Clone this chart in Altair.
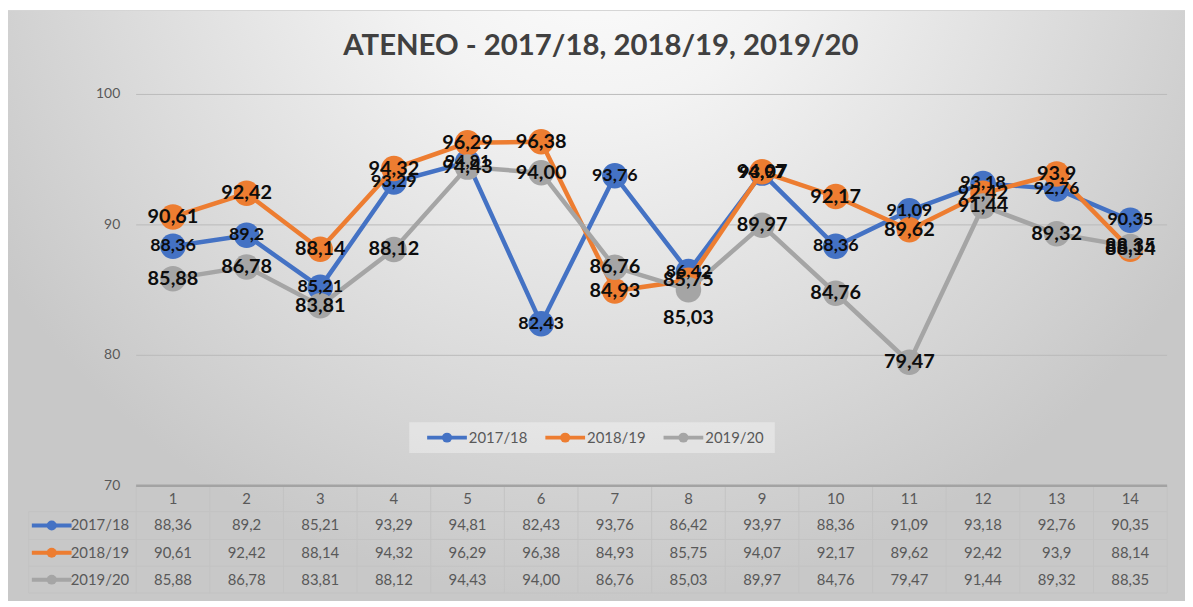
import altair as alt
import pandas as pd

# ---------------- data ----------------
periods = ["1", "2", "3", "4", "5", "6", "7", "8", "9", "10", "11", "12", "13", "14"]
series_names = ["2017/18", "2018/19", "2019/20"]
values_1718 = ["88,36", "89,2", "85,21", "93,29", "94,81", "82,43", "93,76",
               "86,42", "93,97", "88,36", "91,09", "93,18", "92,76", "90,35"]
values_1819 = ["90,61", "92,42", "88,14", "94,32", "96,29", "96,38", "84,93",
               "85,75", "94,07", "92,17", "89,62", "92,42", "93,9", "88,14"]
values_1920 = ["85,88", "86,78", "83,81", "88,12", "94,43", "94,00", "86,76",
               "85,03", "89,97", "84,76", "79,47", "91,44", "89,32", "88,35"]
y_ticks = [70, 80, 90, 100]
title_text = "ATENEO - 2017/18, 2018/19, 2019/20"

# ---------------- style ----------------
colors = ["#4472C4", "#ED7D31", "#A5A5A5"]
label_sizes = [18, 20, 20]
labels_below = {("2019/20", "8")}
W, H = 1038, 394
PAD_L, PAD_T, PAD_R, PAD_B = 129, 85, 18, 120
FONT = "Lato"
TXT = "#595959"
GRID = "#bababa"
TABLE_LINE = "#c3c3c3"

rows = []
for s, vals in zip(series_names, [values_1718, values_1819, values_1920]):
    for i, (p, v) in enumerate(zip(periods, vals)):
        rows.append({
            "series": s, "x": i + 1, "period": p, "label": v,
            "value": float(v.replace(",", ".")),
            "pos": "below" if (s, p) in labels_below else "center",
        })
df = pd.DataFrame(rows)
df_periods = pd.DataFrame({"x": list(range(1, len(periods) + 1)), "period": periods})
df_bounds = pd.DataFrame({"b": [k + 0.5 for k in range(len(periods) + 1)]})
df_ticks = pd.DataFrame({"tick": y_ticks, "tick_label": [str(t) for t in y_ticks]})
df_series = pd.DataFrame({"series": series_names})
one = pd.DataFrame({"t": [title_text]})

x_scale = alt.Scale(domain=[0.5, len(periods) + 0.5], nice=False, zero=False)
y_scale = alt.Scale(domain=[70, 100], nice=False, zero=False)
color_scale = alt.Scale(domain=series_names, range=colors)
X = alt.X("x:Q", scale=x_scale, axis=None)
Y = alt.Y("value:Q", scale=y_scale, axis=None)
YT = alt.Y("tick:Q", scale=y_scale, axis=None)

layers = []

# background with radial gradient
gradient = {
    "gradient": "radial",
    "x1": 0.5, "y1": 0.15, "r1": 0,
    "x2": 0.5, "y2": 0.15, "r2": 0.6,
    "stops": [
        {"offset": 0, "color": "#ffffff"},
        {"offset": 0.3, "color": "#f3f3f3"},
        {"offset": 1, "color": "#c8c8c8"},
    ],
}
layers.append(
    alt.Chart(one).mark_rect(fill=gradient, strokeWidth=0).encode(
        x=alt.value(-PAD_L), x2=alt.value(W + PAD_R),
        y=alt.value(-PAD_T), y2=alt.value(H + PAD_B - 4))
)
layers.append(
    alt.Chart(one).mark_rule(color="#d6d6d6", strokeWidth=1).encode(
        x=alt.value(-PAD_L), x2=alt.value(W + PAD_R), y=alt.value(-PAD_T + 0.5))
)

# gridlines + y axis labels
layers.append(
    alt.Chart(df_ticks).transform_filter(alt.datum.tick > 70).mark_rule(
        color=GRID, strokeWidth=1).encode(y=YT, x=alt.value(0), x2=alt.value(W))
)
layers.append(
    alt.Chart(df_ticks).mark_text(font=FONT, fontSize=14, color=TXT, align="right",
                                  baseline="middle").encode(
        y=YT, x=alt.value(-16), text="tick_label:N")
)

# data table geometry
row_lines = [420, 448, 475, 502]
row_centers = [434, 461.5, 488.5]
header_center = 407
key_left = -108

for yl in row_lines:
    layers.append(
        alt.Chart(one).mark_rule(color=TABLE_LINE, strokeWidth=1).encode(
            x=alt.value(key_left), x2=alt.value(W), y=alt.value(yl))
    )
layers.append(
    alt.Chart(df_bounds).mark_rule(color=TABLE_LINE, strokeWidth=1).encode(
        x=alt.X("b:Q", scale=x_scale, axis=None), y=alt.value(H), y2=alt.value(row_lines[-1]))
)
layers.append(
    alt.Chart(one).mark_rule(color=TABLE_LINE, strokeWidth=1).encode(
        x=alt.value(key_left), y=alt.value(row_lines[0]), y2=alt.value(row_lines[-1]))
)
# x axis line (top of table)
layers.append(
    alt.Chart(one).mark_rule(color="#a3a3a3", strokeWidth=2.5).encode(
        x=alt.value(0), x2=alt.value(W), y=alt.value(H))
)

# series lines + markers
for s in series_names:
    sub = alt.Chart(df).transform_filter(alt.datum.series == s)
    layers.append(
        sub.mark_line(strokeWidth=4.5).encode(
            x=X, y=Y, color=alt.Color("series:N", scale=color_scale, legend=None))
    )
    layers.append(
        sub.mark_circle(size=660, opacity=1).encode(
            x=X, y=Y, color=alt.Color("series:N", scale=color_scale, legend=None))
    )

# data labels
for s, fs in zip(series_names, label_sizes):
    sub = alt.Chart(df).transform_filter(alt.datum.series == s)
    layers.append(
        sub.transform_filter(alt.datum.pos == "center").mark_text(
            font=FONT, fontSize=fs, fontWeight="bold", color="#0d0d0d",
            align="center", baseline="middle").encode(x=X, y=Y, text="label:N")
    )
    layers.append(
        sub.transform_filter(alt.datum.pos == "below").mark_text(
            font=FONT, fontSize=fs, fontWeight="bold", color="#0d0d0d",
            align="center", baseline="middle", dy=29).encode(x=X, y=Y, text="label:N")
    )

# table header
layers.append(
    alt.Chart(df_periods).mark_text(font=FONT, fontSize=15, color=TXT, baseline="middle").encode(
        x=X, y=alt.value(header_center), text="period:N")
)
# table rows
for s, c, rc in zip(series_names, colors, row_centers):
    sub = alt.Chart(df).transform_filter(alt.datum.series == s)
    layers.append(
        sub.mark_text(font=FONT, fontSize=15, color=TXT, baseline="middle").encode(
            x=X, y=alt.value(rc), text="label:N")
    )
    key = alt.Chart(df_series).transform_filter(alt.datum.series == s)
    layers.append(
        key.mark_rule(strokeWidth=4, color=c).encode(
            x=alt.value(-105), x2=alt.value(-65), y=alt.value(rc))
    )
    layers.append(
        key.mark_circle(size=100, opacity=1, color=c).encode(
            x=alt.value(-85), y=alt.value(rc))
    )
    layers.append(
        key.mark_text(font=FONT, fontSize=15, color=TXT, align="right", baseline="middle").encode(
            x=alt.value(-7), y=alt.value(rc), text="series:N")
    )

# legend
leg_left, leg_top, leg_right, leg_bottom = 275, 330, 643, 361
leg_y = (leg_top + leg_bottom) / 2
layers.append(
    alt.Chart(one).mark_rect(fill="#ffffff", opacity=0.35).encode(
        x=alt.value(leg_left), x2=alt.value(leg_right),
        y=alt.value(leg_top), y2=alt.value(leg_bottom))
)
for i, (s, c) in enumerate(zip(series_names, colors)):
    x0 = 293 + i * 119
    key = alt.Chart(df_series).transform_filter(alt.datum.series == s)
    layers.append(
        key.mark_rule(strokeWidth=4, color=c).encode(
            x=alt.value(x0), x2=alt.value(x0 + 40), y=alt.value(leg_y))
    )
    layers.append(
        key.mark_circle(size=100, opacity=1, color=c).encode(
            x=alt.value(x0 + 20), y=alt.value(leg_y))
    )
    layers.append(
        key.mark_text(font=FONT, fontSize=15, color=TXT, align="left", baseline="middle").encode(
            x=alt.value(x0 + 42), y=alt.value(leg_y), text="series:N")
    )

# title
layers.append(
    alt.Chart(one).mark_text(font=FONT, fontSize=29.5, fontWeight="bold", color="#404040",
                             align="center", baseline="middle").encode(
        x=alt.value(468), y=alt.value(-49), text="t:N")
)

chart = alt.layer(*layers).properties(
    width=W, height=H,
    padding={"left": PAD_L, "top": PAD_T, "right": PAD_R, "bottom": PAD_B},
    autosize=alt.AutoSizeParams(type="none"),
    background="white",
).configure_view(stroke=None)

chart.save("out.html", embed_options={"renderer": "svg", "actions": False})
